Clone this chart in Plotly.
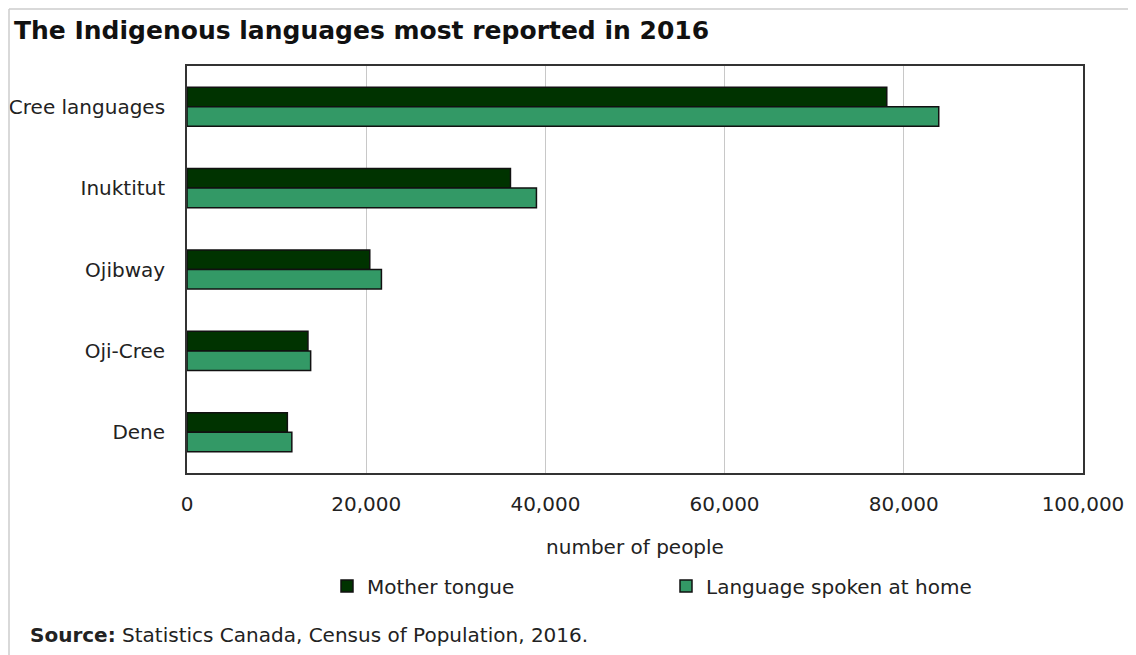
import plotly.graph_objects as go

categories = ["Cree languages", "Inuktitut", "Ojibway", "Oji-Cree", "Dene"]
mother_tongue = [78100, 36100, 20400, 13500, 11200]
spoken_at_home = [83900, 39000, 21700, 13800, 11700]
x_ticks = [0, 20000, 40000, 60000, 80000, 100000]
x_tick_labels = ["0", "20,000", "40,000", "60,000", "80,000", "100,000"]

FONT = "DejaVu Sans"
OFF = 8  # page body margin
W, H = 1136 - OFF, 655 - OFF
L, R, T, B = 187 - OFF, 1083 - OFF, 66 - OFF, 473 - OFF

fig = go.Figure()
fig.add_trace(go.Bar(
    name="Mother tongue", y=categories, x=mother_tongue, orientation="h",
    marker=dict(color="#003300", line=dict(color="#111111", width=1.5)),
))
fig.add_trace(go.Bar(
    name="Language spoken at home", y=categories, x=spoken_at_home, orientation="h",
    marker=dict(color="#339966", line=dict(color="#111111", width=1.5)),
))

def px(x):
    return (x - OFF - L) / (R - L)

def py(y):
    return (B - (y - OFF)) / (B - T)

fig.update_layout(
    width=W, height=H,
    margin=dict(l=L, r=W - R, t=T, b=H - B, autoexpand=False),
    paper_bgcolor="white", plot_bgcolor="white",
    barmode="group", bargap=0.52, bargroupgap=0,
    font=dict(family=FONT, size=20, color="#222222"),
    title=dict(
        text="<b>The Indigenous languages most reported in 2016</b>",
        xref="container", yref="container", x=(14 - OFF) / W, xanchor="left",
        y=1 - (30 - OFF) / H, yanchor="middle",
        font=dict(family=FONT, size=25, color="#111111"),
    ),
    showlegend=True,
    legend=dict(
        orientation="h", x=px(327), xanchor="left", y=py(586), yanchor="middle",
        xref="paper", yref="paper",
        entrywidth=294, entrywidthmode="pixels", itemwidth=30,
        font=dict(family=FONT, size=20, color="#222222"),
        traceorder="normal",
    ),
    xaxis=dict(
        range=[0, 100000], tickvals=x_ticks, ticktext=x_tick_labels,
        showgrid=True, gridcolor="#c8c8c8", gridwidth=1.2,
        showline=True, mirror=True, linecolor="#333333", linewidth=1.8,
        zeroline=False, ticks="", ticklabelstandoff=12,
        title=dict(text="number of people", standoff=25,
                   font=dict(family=FONT, size=20, color="#222222")),
        fixedrange=True,
    ),
    yaxis=dict(
        autorange="reversed",
        showline=True, mirror=True, linecolor="#333333", linewidth=1.8,
        showgrid=False, ticks="", ticklabelstandoff=16,
        fixedrange=True,
    ),
    annotations=[dict(
        text="<b>Source:</b> Statistics Canada, Census of Population, 2016.",
        xref="paper", yref="paper", x=px(28), y=py(635),
        xanchor="left", yanchor="middle", showarrow=False,
        font=dict(family=FONT, size=20, color="#222222"),
    )],
    shapes=[
        dict(type="line", xref="paper", yref="paper",
             x0=px(9), x1=px(1140), y0=py(9), y1=py(9),
             line=dict(color="#cccccc", width=1.5)),
        dict(type="line", xref="paper", yref="paper",
             x0=px(9), x1=px(9), y0=py(9), y1=py(660),
             line=dict(color="#cccccc", width=1.5)),
    ],
)

fig.write_html("out.html")
